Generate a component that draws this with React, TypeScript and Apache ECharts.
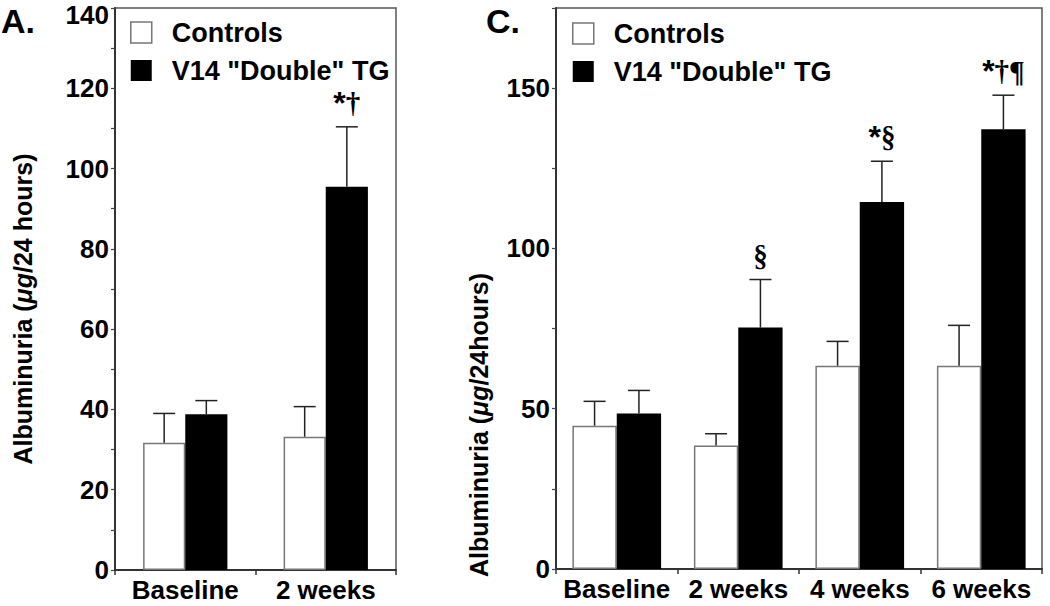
import React, { useEffect, useRef } from "react";
import * as echarts from "echarts";

// Panel A
const catsA = ["Baseline", "2 weeks"];
const ctrlA = [31.7, 33.2];
const ctrlErrA = [7.3, 7.5];
const tgA = [38.8, 95.5];
const tgErrA = [3.4, 14.9];
const sigA = ["", "*†"];
const ticksA = { max: 140, step: 10, labelStep: 20 };

// Panel C
const catsC = ["Baseline", "2 weeks", "4 weeks", "6 weeks"];
const ctrlC = [44.7, 38.5, 63.4, 63.4];
const ctrlErrC = [7.6, 3.7, 7.6, 12.6];
const tgC = [48.5, 75.3, 114.5, 137.2];
const tgErrC = [7.2, 15.0, 12.7, 10.6];
const sigC = ["", "§", "*§", "*†¶"];
const ticksC = { max: 175, step: 25, labelStep: 50 };

const NAME_C = "Controls";
const NAME_T = 'V14 "Double" TG';
const SANS = "Liberation Sans, Arial, Helvetica, sans-serif";
const SERIF = "Liberation Serif, Times New Roman, serif";

function errSeries(idx: number, means: number[], errs: number[], ratio: number, side: number, sigs: string[] | null) {
  return {
    type: "custom",
    xAxisIndex: idx,
    yAxisIndex: idx,
    z: 5,
    silent: true,
    data: means.map((m, i) => [i, m, errs[i]]),
    renderItem: (params: any, api: any) => {
      const i = api.value(0);
      const m = api.value(1);
      const e = api.value(2);
      const base = api.coord([i, m]);
      const top = api.coord([i, m + e]);
      const band = api.size([1, 0])[0];
      const bw = band * ratio;
      const x = base[0] + (side * bw) / 2;
      const capHalf = 11;
      const lineStyle = { stroke: "#222", lineWidth: 1.5 };
      const children: any[] = [
        { type: "line", shape: { x1: x, y1: base[1], x2: x, y2: top[1] }, style: lineStyle },
        { type: "line", shape: { x1: x - capHalf, y1: top[1], x2: x + capHalf, y2: top[1] }, style: lineStyle },
      ];
      const s = sigs ? sigs[params.dataIndex] : "";
      if (s) {
        const txt = s.replace(/\*/g, "{s|*}");
        children.push({
          type: "text",
          x: x,
          y: top[1] - 24,
          style: {
            text: txt,
            fill: "#000",
            fontFamily: SERIF,
            fontWeight: "bold",
            fontSize: 29,
            align: "center",
            verticalAlign: "middle",
            textAlign: "center",
            textVerticalAlign: "middle",
            rich: {
              s: { fontFamily: SANS, fontWeight: "bold", fontSize: 32, fill: "#000", color: "#000" },
            },
          },
        });
      }
      return { type: "group", children };
    },
  };
}

function xAxisFor(idx: number, cats: string[]) {
  return {
    type: "category",
    gridIndex: idx,
    data: cats,
    axisLine: { show: true, lineStyle: { color: "#333", width: 2 } },
    axisTick: { show: true, length: 5, lineStyle: { color: "#333", width: 1.5 } },
    axisLabel: { interval: 0, margin: 10, lineHeight: 20, color: "#000", fontFamily: SANS, fontWeight: "bold", fontSize: 26 },
    splitLine: { show: false },
  };
}

function yAxisFor(idx: number, t: { max: number; step: number; labelStep: number }) {
  return {
    type: "value",
    gridIndex: idx,
    min: 0,
    max: t.max,
    interval: t.step,
    axisLine: { show: true, lineStyle: { color: "#333", width: 2 } },
    axisTick: { show: true, length: 4, lineStyle: { color: "#444", width: 1.2 } },
    axisLabel: {
      margin: 6,
      color: "#000",
      fontFamily: SANS,
      fontWeight: "bold",
      fontSize: 26,
      lineHeight: 22,
      formatter: (v: number) => {
        if (v % t.labelStep !== 0) return "";
        if (v === t.max) return "{t|" + v + "}";
        return String(v);
      },
      rich: {
        t: { fontFamily: SANS, fontWeight: "bold", fontSize: 26, color: "#000", lineHeight: 22, padding: [13, 0, 0, 0] },
      },
    },
    splitLine: { show: false },
  };
}

function legendFor(left: number, top: number) {
  return {
    left,
    top,
    orient: "vertical",
    padding: 0,
    itemWidth: 21,
    itemHeight: 21,
    itemGap: 11,
    selectedMode: false,
    icon: "rect",
    textStyle: { fontFamily: SANS, fontWeight: "bold", fontSize: 27, color: "#000", lineHeight: 27, padding: [0, 0, 0, 15] },
    data: [
      { name: NAME_C, itemStyle: { color: "#fff", borderColor: "#777", borderWidth: 1.5 } },
      { name: NAME_T, itemStyle: { color: "#000", borderWidth: 0 } },
    ],
  };
}

function yTitle(x: number, y: number, spaced: boolean) {
  return {
    type: "text",
    x,
    y,
    rotation: Math.PI / 2,
    style: {
      text: spaced ? "Albuminuria ({i|μg}/24 hours)" : "Albuminuria ({i|μg}/24hours)",
      fill: "#000",
      fontFamily: SANS,
      fontWeight: "bold",
      fontSize: 25,
      align: "center",
      verticalAlign: "middle",
      textAlign: "center",
      textVerticalAlign: "middle",
      rich: { i: { fontFamily: SANS, fontWeight: "bold", fontStyle: "italic", fontSize: 25, fill: "#000" } },
    },
  };
}

export default function App() {
  const ref = useRef<HTMLDivElement>(null);
  useEffect(() => {
    if (!ref.current) return;
    const chart = echarts.init(ref.current, null, { renderer: "svg" });
    const barC = { color: "#fff", borderColor: "#777", borderWidth: 1.5 };
    const barT = { color: "#000", borderColor: "#000", borderWidth: 0 };
    chart.setOption({
      animation: false,
      backgroundColor: "#fff",
      title: [
        { text: "A.", left: 1, top: 4, padding: 0, textStyle: { fontFamily: SANS, fontWeight: "bold", fontSize: 34, color: "#000" } },
        { text: "C.", left: 486, top: 4, padding: 0, textStyle: { fontFamily: SANS, fontWeight: "bold", fontSize: 34, color: "#000" } },
      ],
      legend: [legendFor(130, 19), legendFor(572, 20)],
      grid: [
        { left: 115, top: 8, width: 281, height: 562, containLabel: false, outerBoundsMode: "none", show: true, borderColor: "#555", borderWidth: 1.5, backgroundColor: "transparent" },
        { left: 556, top: 8, width: 486, height: 561, containLabel: false, outerBoundsMode: "none", show: true, borderColor: "#555", borderWidth: 1.5, backgroundColor: "transparent" },
      ],
      xAxis: [xAxisFor(0, catsA), xAxisFor(1, catsC)],
      yAxis: [yAxisFor(0, ticksA), yAxisFor(1, ticksC)],
      graphic: [yTitle(23, 309, true), yTitle(479, 425, false)],
      series: [
        { type: "bar", name: NAME_C, xAxisIndex: 0, yAxisIndex: 0, data: ctrlA, barWidth: "30%", barGap: "0%", itemStyle: barC },
        { type: "bar", name: NAME_T, xAxisIndex: 0, yAxisIndex: 0, data: tgA, barWidth: "30%", barGap: "0%", itemStyle: barT },
        { type: "bar", name: NAME_C, xAxisIndex: 1, yAxisIndex: 1, data: ctrlC, barWidth: "36.5%", barGap: "0%", itemStyle: barC },
        { type: "bar", name: NAME_T, xAxisIndex: 1, yAxisIndex: 1, data: tgC, barWidth: "36.5%", barGap: "0%", itemStyle: barT },
        errSeries(0, ctrlA, ctrlErrA, 0.3, -1, null),
        errSeries(0, tgA, tgErrA, 0.3, 1, sigA),
        errSeries(1, ctrlC, ctrlErrC, 0.365, -1, null),
        errSeries(1, tgC, tgErrC, 0.365, 1, sigC),
      ],
    });
    return () => chart.dispose();
  }, []);
  return <div ref={ref} style={{ position: "fixed", left: 0, top: 0, width: 1050, height: 606, background: "#fff" }} />;
}
